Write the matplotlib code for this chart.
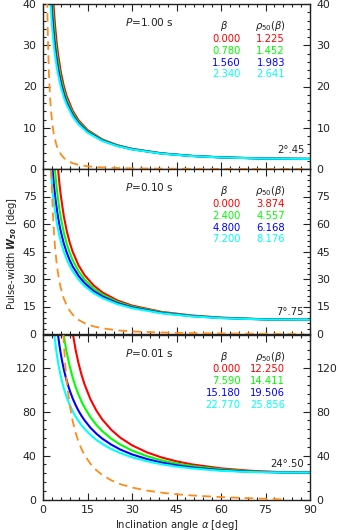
import numpy as np
import matplotlib.pyplot as plt
from matplotlib.ticker import MultipleLocator, FixedLocator

plt.rcParams['font.family'] = 'DejaVu Sans'
plt.rcParams['mathtext.fontset'] = 'dejavusans'

nan = np.nan

# --- P = 1.00 s (top panel) ---
alpha1 = [2.2, 2.5, 2.8, 3.1, 3.4, 3.7, 4, 4.5, 5, 6, 7, 8, 10, 12, 15, 20, 25, 30, 40, 50, 60, 75, 90]
w1_red = [64.7, 56.7, 50.6, 45.6, 41.5, 38.1, 35.26, 31.32, 28.18, 23.48, 20.13, 17.62, 14.12, 11.79, 9.47, 7.16, 5.80, 4.90, 3.81, 3.20, 2.83, 2.54, 2.45]
w1_green = [55.4, 49.4, 44.6, 40.7, 37.4, 34.6, 32.2, 28.9, 26.2, 22.08, 19.09, 16.82, 13.60, 11.42, 9.24, 7.03, 5.71, 4.84, 3.78, 3.18, 2.82, 2.53, 2.45]
w1_blue = [49.2, 44.3, 40.4, 37.1, 34.3, 31.9, 29.9, 26.96, 24.58, 20.91, 18.20, 16.11, 13.13, 11.09, 9.02, 6.91, 5.63, 4.79, 3.75, 3.16, 2.81, 2.53, 2.45]
w1_cyan = [44.7, 40.6, 37.2, 34.3, 31.9, 29.8, 27.97, 25.38, 23.25, 19.91, 17.43, 15.51, 12.72, 10.80, 8.82, 6.79, 5.56, 4.74, 3.72, 3.14, 2.80, 2.52, 2.45]
alpha1_dash = [1.4, 1.6, 1.8, 2.0, 2.2, 2.5, 2.8, 3.1, 3.4, 3.7, 4, 4.5, 5, 6, 7, 8, 10, 12, 15, 20, 25, 30, 40, 50, 60, 75, 88]
w1_dash = [41.7, 33.5, 27.7, 23.3, 20.0, 16.1, 13.4, 11.3, 9.6, 8.3, 7.3, 5.9, 4.9, 3.6, 2.7, 2.1, 1.4, 1.0, 0.65, 0.37, 0.24, 0.16, 0.09, 0.06, 0.03, 0.02, 0.0]
beta1 = ['0.000', '0.780', '1.560', '2.340']
rho1 = ['1.225', '1.452', '1.983', '2.641']

# --- P = 0.10 s (middle panel) ---
alpha2 = [2.4, 2.7, 3.0, 3.3, 3.6, 4.0, 4.5, 5.0, 5.5, 6, 7, 8, 9, 10, 12, 14, 17, 20, 25, 30, 40, 50, 60, 75, 90]
w2_red = [215.3, 183.4, 160.9, 143.8, 130.3, 115.9, 102.1, 91.3, 82.6, 75.5, 64.4, 56.2, 49.9, 44.9, 37.4, 32.1, 26.6, 22.7, 18.35, 15.51, 12.06, 10.12, 8.95, 8.02, 7.75]
w2_green = [139.0, 125.9, 115.1, 106.2, 98.6, 90.1, 81.5, 74.4, 68.5, 63.5, 55.4, 49.2, 44.3, 40.3, 34.2, 29.7, 24.9, 21.5, 17.58, 14.97, 11.77, 9.94, 8.84, 7.98, 7.75]
w2_blue = [111.2, 102.1, 94.5, 88.1, 82.6, 76.3, 69.8, 64.4, 59.8, 55.9, 49.4, 44.4, 40.3, 36.9, 31.7, 27.8, 23.5, 20.5, 16.91, 14.50, 11.51, 9.79, 8.75, 7.94, 7.75]
w2_cyan = [95.3, 88.1, 82.1, 77.0, 72.5, 67.4, 62.1, 57.6, 53.8, 50.5, 45.0, 40.7, 37.2, 34.3, 29.7, 26.2, 22.4, 19.6, 16.32, 14.08, 11.27, 9.64, 8.66, 7.91, 7.75]
alpha2_dash = [2.4, 2.7, 3.0, 3.3, 3.6, 4.0, 4.5, 5.0, 5.5, 6, 7, 8, 9, 10, 12, 14, 17, 20, 25, 30, 40, 50, 60, 75, 88]
w2_dash = [120.0, 95.3, 78.8, 66.8, 57.8, 48.5, 40.0, 33.7, 28.8, 25.0, 19.4, 15.5, 12.7, 10.6, 7.7, 5.9, 4.2, 3.1, 2.0, 1.4, 0.8, 0.5, 0.3, 0.1, 0.0]
beta2 = ['0.000', '2.400', '4.800', '7.200']
rho2 = ['3.874', '4.557', '6.168', '8.176']

# --- P = 0.01 s (bottom panel) ---
alpha3 = [3.5, 4, 4.5, 5, 5.5, 6, 6.5, 7, 7.5, 8, 9, 10, 11, 12, 13, 14, 16, 18, 20, 23, 26, 30, 35, 40, 45, 50, 60, 70, 80, 90]
w3_red = [nan, nan, nan, nan, nan, nan, 281.9, 244.4, 219.3, 200.2, 172.0, 151.6, 136.0, 123.5, 113.3, 104.7, 91.1, 80.8, 72.7, 63.4, 56.3, 49.3, 42.9, 38.2, 34.7, 32.0, 28.3, 26.1, 24.9, 24.5]
w3_green = [317.8, 256.6, 224.9, 202.4, 185.2, 171.4, 159.7, 149.8, 141.2, 133.7, 121.1, 110.9, 102.4, 95.2, 89.0, 83.7, 74.8, 67.8, 62.1, 55.3, 50.0, 44.5, 39.4, 35.6, 32.7, 30.5, 27.4, 25.5, 24.7, 24.5]
w3_blue = [197.4, 177.9, 162.9, 150.9, 140.9, 132.3, 125.0, 118.6, 112.9, 107.8, 99.1, 91.9, 85.8, 80.5, 76.0, 72.0, 65.2, 59.8, 55.3, 49.9, 45.5, 41.0, 36.8, 33.6, 31.1, 29.2, 26.6, 25.2, 24.6, 24.5]
w3_cyan = [159.3, 145.8, 134.9, 126.0, 118.5, 112.0, 106.4, 101.4, 97.0, 93.0, 86.1, 80.3, 75.4, 71.2, 67.5, 64.3, 58.7, 54.2, 50.5, 45.9, 42.3, 38.4, 34.8, 32.0, 29.9, 28.3, 26.1, 24.96, 24.6, 24.5]
alpha3_dash = [6.5, 7, 7.5, 8, 9, 10, 11, 12, 13, 14, 16, 18, 20, 23, 26, 30, 35, 40, 45, 50, 60, 70, 80, 81]
w3_dash = [175.5, 143.0, 122.3, 107.2, 85.9, 71.3, 60.6, 52.3, 45.8, 40.4, 32.4, 26.6, 22.2, 17.5, 14.0, 10.9, 8.1, 6.2, 4.8, 3.7, 2.2, 1.1, 0.2, 0.0]
beta3 = ['0.000', '7.590', '15.180', '22.770']
rho3 = ['12.250', '14.411', '19.506', '25.856']

colors = ['#ff0000', '#00ff00', '#0000ff', '#00ffff']
dash_color = '#ff8c1a'
ink = '#222222'

panels = [
    dict(alpha=alpha1, curves=[w1_red, w1_green, w1_blue, w1_cyan], ad=alpha1_dash, wd=w1_dash,
         ymax=40, yticks=[0, 10, 20, 30, 40], yminor=2, P='1.00', beta=beta1, rho=rho1,
         note='2°.45', note_y=0.116),
    dict(alpha=alpha2, curves=[w2_red, w2_green, w2_blue, w2_cyan], ad=alpha2_dash, wd=w2_dash,
         ymax=90, yticks=[0, 15, 30, 45, 60, 75], yminor=3, P='0.10', beta=beta2, rho=rho2,
         note='7°.75', note_y=0.135),
    dict(alpha=alpha3, curves=[w3_red, w3_green, w3_blue, w3_cyan], ad=alpha3_dash, wd=w3_dash,
         ymax=150, yticks=[0, 40, 80, 120], yminor=8, P='0.01', beta=beta3, rho=rho3,
         note='24°.50', note_y=0.2145),
]

fig = plt.figure(figsize=(3.38, 5.30), dpi=100)
left, width = 43 / 338, 267 / 338
height = 165 / 530
bottoms = [1 - 169 / 530, 1 - 334 / 530, 1 - 499.5 / 530]
fs_tick = 7.9
fs_txt = 7.2

for i, p in enumerate(panels):
    ax = fig.add_axes([left, bottoms[i], width, height])
    for vals, c in zip(p['curves'], colors):
        ax.plot(p['alpha'], vals, color=c, lw=1.5)
    ax.plot(p['ad'], p['wd'], color=dash_color, lw=1.3, dashes=(4.8, 3.0), zorder=3)

    ax.set_xlim(0, 90)
    ax.set_ylim(0, p['ymax'])
    ax.xaxis.set_major_locator(MultipleLocator(15))
    ax.xaxis.set_minor_locator(MultipleLocator(3))
    ax.yaxis.set_major_locator(FixedLocator(p['yticks']))
    ax.yaxis.set_minor_locator(MultipleLocator(p['yminor']))
    ax.tick_params(which='both', direction='in', top=True, right=True,
                   labelright=True, labelsize=fs_tick, colors=ink, width=0.8)
    ax.tick_params(which='major', length=5)
    ax.tick_params(which='minor', length=2.5)
    ax.tick_params(axis='y', pad=4.6)
    ax.tick_params(axis='x', pad=4.2)
    if i < 2:
        ax.tick_params(labelbottom=False)
    for s in ax.spines.values():
        s.set_color(ink)
        s.set_linewidth(1.0)

    ax.text(0.307, 0.889, '$P$=' + p['P'] + ' s', transform=ax.transAxes,
            fontsize=7.6, va='center', ha='left', color=ink)
    ax.text(0.679, 0.865, r'$\beta$', transform=ax.transAxes,
            fontsize=fs_txt, va='center', ha='center', color=ink)
    ax.text(0.852, 0.865, r'$\rho_{50}(\beta)$', transform=ax.transAxes,
            fontsize=fs_txt, va='center', ha='center', color=ink)
    for k in range(4):
        y = 0.788 - 0.0715 * k
        ax.text(0.740, y, p['beta'][k], transform=ax.transAxes, fontsize=fs_txt,
                va='center', ha='right', color=colors[k])
        ax.text(0.906, y, p['rho'][k], transform=ax.transAxes, fontsize=fs_txt,
                va='center', ha='right', color=colors[k])
    ax.text(0.978, p['note_y'], p['note'], transform=ax.transAxes, fontsize=fs_txt,
            va='center', ha='right', color=ink)

fig.text(0.035, 1 - 253 / 530, r'Pulse-width $\mathbfit{W}_{\mathbfit{50}}$ [deg]',
         rotation=90, va='center', ha='center', fontsize=fs_txt, color=ink)
fig.text(0.522, 1 - 524.5 / 530, r'Inclination angle $\alpha$ [deg]',
         va='center', ha='center', fontsize=fs_txt, color=ink)

fig.savefig('out.png', dpi=100)
